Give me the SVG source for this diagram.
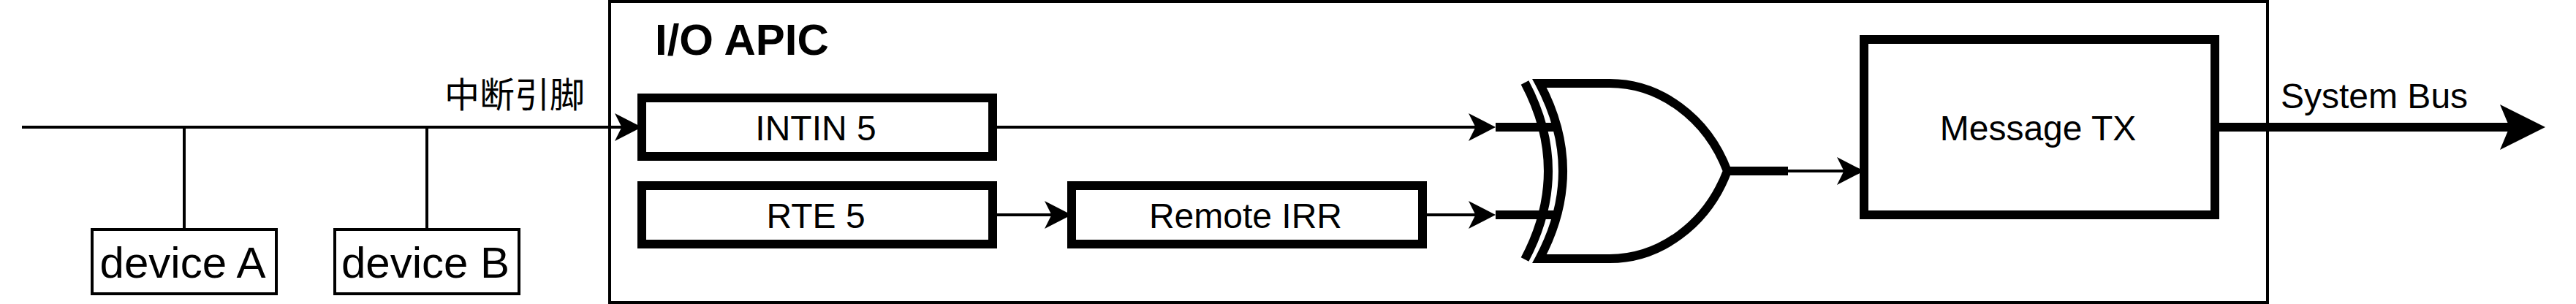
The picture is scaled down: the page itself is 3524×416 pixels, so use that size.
<svg xmlns="http://www.w3.org/2000/svg" width="3524" height="416" viewBox="0 0 3524 416">
<style>
text{font-family:"Liberation Sans","Noto Sans CJK SC",sans-serif;fill:#000}
.c{text-anchor:middle}
.f48{font-size:48px}
.f60{font-size:60px}
.box{fill:#fff;stroke:#000;stroke-width:12}
.thin{fill:#fff;stroke:#000;stroke-width:4}
.wire{fill:none;stroke:#000;stroke-width:4}
.bus{fill:none;stroke:#000;stroke-width:12}
.g{fill:none;stroke:#000;stroke-width:12}
</style>
<defs>
<marker id="a" markerUnits="userSpaceOnUse" markerWidth="37" markerHeight="38" viewBox="0 0 37 38" refX="11" refY="19" orient="auto"><path d="M0 0L37 19L0 38L9.5 19Z" fill="#000"/></marker>
<marker id="b" markerUnits="userSpaceOnUse" markerWidth="62" markerHeight="62" viewBox="0 0 62 62" refX="15" refY="31" orient="auto"><path d="M0 0L62 31L0 62L13 31Z" fill="#000"/></marker>
</defs>
<rect width="3524" height="416" fill="#fff"/>
<g id="apic"><rect class="thin" x="834" y="2" width="2268" height="412"/><text x="896" y="75" class="f60" font-weight="700">I/O APIC</text></g>
<g id="connectors">
<path class="wire" d="M252 174V312"/>
<path class="wire" d="M584 174V312"/>
<path class="wire" d="M30 174H852" marker-end="url(#a)"/>
<path class="wire" d="M1364 174H2020" marker-end="url(#a)"/>
<path class="wire" d="M1364 294H1440" marker-end="url(#a)"/>
<path class="wire" d="M1952 294H2020" marker-end="url(#a)"/>
<path class="wire" d="M2446 234H2524" marker-end="url(#a)"/>
<path class="bus" d="M3036 174H3435" marker-end="url(#b)"/>
<text x="608" y="147" class="f48">中断引脚</text>
<text x="3120" y="148" class="f48">System Bus</text>
</g>
<g id="device-a"><rect class="thin" x="126" y="314" width="252" height="88"/><text x="250" y="380" class="f60 c">device A</text></g>
<g id="device-b"><rect class="thin" x="458" y="314" width="252" height="88"/><text x="582" y="380" class="f60 c">device B</text></g>
<g id="intin5"><rect class="box" x="878" y="134" width="480" height="80"/><text x="1116" y="192" class="f48 c">INTIN 5</text></g>
<g id="rte5"><rect class="box" x="878" y="254" width="480" height="80"/><text x="1116" y="312" class="f48 c">RTE 5</text></g>
<g id="remote-irr"><rect class="box" x="1466" y="254" width="480" height="80"/><text x="1704" y="312" class="f48 c">Remote IRR</text></g>
<g id="xor-gate">
<path class="g" d="M2046 174H2127M2046 294H2127M2366 234H2446"/>
<path class="g" d="M2086 113Q2150 234 2086 355"/>
<path class="g" d="M2106 114H2202C2270 114 2335 160 2363 234C2335 308 2270 354 2202 354H2106Q2170 234 2106 114Z"/>
</g>
<g id="message-tx"><rect class="box" x="2550" y="54" width="480" height="240"/><text x="2788" y="192" class="f48 c">Message TX</text></g>
</svg>
